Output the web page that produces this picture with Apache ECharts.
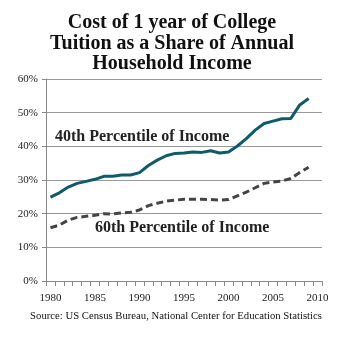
<!DOCTYPE html>
<html><head><meta charset="utf-8">
<script src="https://cdn.jsdelivr.net/npm/echarts@6/dist/echarts.min.js"></script>
<style>html,body{margin:0;padding:0;background:#fff}#c{width:359px;height:345px}</style>
</head><body><div id="c"></div>
<script>
var years = [];
for (var y = 1980; y <= 2010; y++) years.push(String(y));
var pct40 = [24.9,26.2,27.9,29.0,29.6,30.2,31.1,31.1,31.5,31.5,32.2,34.3,35.9,37.2,37.9,38.0,38.3,38.2,38.7,38.0,38.3,40.1,42.3,44.8,46.8,47.5,48.2,48.3,52.3,54.2];
var pct60 = [15.8,16.6,18.1,18.9,19.2,19.5,20.0,19.9,20.2,20.4,21.1,22.4,23.1,23.7,24.0,24.3,24.3,24.3,24.2,24.0,24.2,25.3,26.4,27.7,29.0,29.4,29.7,30.5,32.2,33.8];
var yTicks = [0,10,20,30,40,50,60];
var titleText = 'Cost of 1 year of College\nTuition as a Share of Annual\nHousehold Income';
var sourceText = 'Source: US Census Bureau, National Center for Education Statistics';
var serif = '"Liberation Serif", "DejaVu Serif", serif';
var chart = echarts.init(document.getElementById('c'));
chart.setOption({
  animation: false,
  backgroundColor: '#fff',
  grid: {left: 46, right: 37, top: 79, bottom: 64, containLabel: false},
  xAxis: {
    type: 'category', data: years, boundaryGap: true,
    axisLine: {lineStyle: {color: '#888', width: 1}},
    axisTick: {show: true, interval: 0, length: 5, lineStyle: {color: '#888'}},
    axisLabel: {interval: 4, color: '#222', fontFamily: serif, fontSize: 11, margin: 12}
  },
  yAxis: {
    type: 'value', min: yTicks[0], max: yTicks[yTicks.length-1], interval: 10,
    axisLine: {show: true, lineStyle: {color: '#888'}},
    axisTick: {show: true, length: 4, lineStyle: {color: '#888'}},
    splitLine: {lineStyle: {color: '#999', width: 1}},
    axisLabel: {formatter: '{value}%', color: '#222', fontFamily: serif, fontSize: 11, margin: 8}
  },
  series: [{
    name: '40th Percentile of Income', type: 'line', data: pct40, symbol: 'none',
    lineStyle: {color: '#0f5c69', width: 3}
  }, {
    name: '60th Percentile of Income', type: 'line', data: pct60, symbol: 'none',
    lineStyle: {color: '#444', width: 3, type: [7, 4]}
  }],
  graphic: [{
    type: 'text', x: 172, y: 13,
    style: {text: titleText, align: 'center', fontFamily: serif, fontWeight: 'bold', fontSize: 20, lineHeight: 20.5, fill: '#111'}
  }, {
    type: 'text', x: 176, y: 311,
    style: {text: sourceText, align: 'center', fontFamily: serif, fontSize: 10.7, fill: '#111'}
  }, {
    type: 'text', left: 55, top: 129,
    style: {text: '40th Percentile of Income', fontFamily: serif, fontWeight: 'bold', fontSize: 16, fill: '#222'}
  }, {
    type: 'text', left: 95, top: 220,
    style: {text: '60th Percentile of Income', fontFamily: serif, fontWeight: 'bold', fontSize: 16, fill: '#222'}
  }]
});
</script></body></html>
